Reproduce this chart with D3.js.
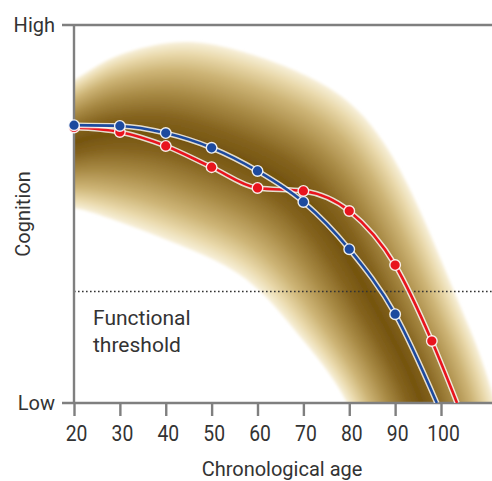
<!DOCTYPE html>
<html>
<head>
<meta charset="utf-8">
<script src="https://cdn.jsdelivr.net/npm/d3@7"></script>
<style>
  body { margin: 0; background: #fff; }
  svg { display: block; font-family: Roboto, "Noto Sans", sans-serif; }
</style>
</head>
<body>
<svg id="chart" width="492" height="481"></svg>
<script>
// Ages where cognition was sampled
const ages = [20, 30, 40, 50, 60, 70, 80, 90];
const blueValues = [73.5, 73.3, 71.4, 67.5, 61.4, 53.2, 40.7, 23.5];
const blueEnd = [99.1, 0];          // where the blue trajectory reaches "Low"

const redAges = [20, 30, 40, 50, 60, 70, 80, 90, 98];
const redValues = [72.9, 71.7, 68.0, 62.4, 56.9, 56.1, 50.8, 36.5, 16.4];
const redEnd = [103.5, 0];          // where the red trajectory reaches "Low"

// Population range of cognition by age (outer edges of the shaded band)
const bandUpper = [[15.2, 81.5], [20, 85.4], [30, 92.1], [44.6, 95.5], [60.5, 91.5],
  [75.2, 83.6], [82.4, 76.7], [87.8, 68.3], [92.2, 59.0], [96.5, 47.9],
  [100.2, 37.3], [104.1, 25.9], [108.1, 14.0], [111.6, 0.8], [112.9, -7.1]];
const bandLower = [[15.2, 52.6], [20, 51.6], [24.1, 50.3], [38.7, 43.9], [53.4, 36.0],
  [60.5, 29.6], [69.3, 17.5], [75.8, 7.4], [79.5, 0], [81.3, -5.8]];

const thresholdValue = 29.5;
const thresholdLabel = ["Functional", "threshold"];

const tickAges = [20, 30, 40, 50, 60, 70, 80, 90, 100];
const yTicks = [0, 100];
const yTickLabels = ["Low", "High"];
const xTitle = "Chronological age";
const yTitle = "Cognition";

const W = 492, H = 481;
const svg = d3.select("#chart");
const x = d3.scaleLinear().domain([20, 100]).range([74, 441]);
const y = d3.scaleLinear().domain([0, 100]).range([403, 25]);
const axisColor = "#7f7f7f";
const textColor = "#333";

const defs = svg.append("defs");
defs.append("clipPath").attr("id", "plot-clip")
  .append("rect")
  .attr("x", x(20)).attr("y", y(100))
  .attr("width", W - x(20)).attr("height", y(0) - y(100));
defs.append("filter").attr("id", "soft")
  .attr("x", "-10%").attr("y", "-10%").attr("width", "120%").attr("height", "120%")
  .append("feGaussianBlur").attr("stdDeviation", 1.6);

// ---- shaded band: nested strips from the outer edges towards the middle ----
const edgeLine = d3.line()
  .x(d => x(d[0])).y(d => y(d[1]))
  .curve(d3.curveCatmullRom.alpha(0.5));

function sampleEdge(pts, n) {
  const p = svg.append("path").attr("d", edgeLine(pts)).attr("fill", "none");
  const node = p.node();
  const len = node.getTotalLength();
  const out = d3.range(n + 1).map(i => {
    const q = node.getPointAtLength(len * i / n);
    return [q.x, q.y];
  });
  p.remove();
  return out;
}

const nSamples = 240;
const up = sampleEdge(bandUpper, nSamples);
const lo = sampleEdge(bandLower, nSamples);
const at = (i, t) => [up[i][0] + (lo[i][0] - up[i][0]) * t, up[i][1] + (lo[i][1] - up[i][1]) * t];

const shade = d3.scaleLinear()
  .domain([0, 0.2, 0.45, 0.7, 0.88, 1])
  .range(["#74540f", "#856420", "#a88a45", "#cdb476", "#e9d9ab", "#f7efd8"])
  .interpolate(d3.interpolateRgb);

const bandG = svg.append("g").attr("clip-path", "url(#plot-clip)")
  .append("g").attr("filter", "url(#soft)");
const levels = 70;
const polyLine = d3.line();
d3.range(levels).forEach(k => {
  const h = 0.5 * (1 - k / levels);
  const t0 = 0.5 - h, t1 = 0.5 + h;
  const pts = d3.range(nSamples + 1).map(i => at(i, t0))
    .concat(d3.range(nSamples, -1, -1).map(i => at(i, t1)));
  bandG.append("path")
    .attr("d", polyLine(pts) + "Z")
    .attr("fill", shade(2 * h));
});

// ---- functional threshold ----
svg.append("line")
  .attr("x1", x(20)).attr("x2", W)
  .attr("y1", y(thresholdValue)).attr("y2", y(thresholdValue))
  .attr("stroke", "#333").attr("stroke-width", 1.5)
  .attr("stroke-dasharray", "1.6,2.4");

svg.append("text")
  .attr("x", 93).attr("y", 325)
  .attr("font-size", 21).attr("fill", textColor)
  .selectAll("tspan").data(thresholdLabel).join("tspan")
  .attr("x", 93).attr("dy", (d, i) => i ? 27 : 0)
  .text(d => d);

// ---- axes ----
const gy = svg.append("g");
gy.selectAll("line.grid").data(yTicks).join("line")
  .attr("class", "grid")
  .attr("x1", 62).attr("x2", W)
  .attr("y1", d => y(d)).attr("y2", d => y(d))
  .attr("stroke", axisColor).attr("stroke-width", 2.4);
gy.selectAll("text").data(yTicks).join("text")
  .attr("x", 55).attr("y", d => y(d)).attr("dy", "0.35em")
  .attr("text-anchor", "end").attr("font-size", 20).attr("fill", textColor)
  .text((d, i) => yTickLabels[i]);
svg.append("line")
  .attr("x1", x(20)).attr("x2", x(20))
  .attr("y1", y(100)).attr("y2", y(0))
  .attr("stroke", axisColor).attr("stroke-width", 2.4);

const gx = svg.append("g")
  .attr("transform", `translate(0,${y(0)})`)
  .call(d3.axisBottom(x).tickValues(tickAges).tickSize(13).tickPadding(9).tickFormat(d3.format("d")));
gx.select(".domain").remove();
gx.selectAll(".tick line").attr("stroke", axisColor).attr("stroke-width", 2.4);
gx.selectAll(".tick text")
  .attr("font-size", 22.5).attr("fill", textColor)
  .attr("font-family", "Roboto, sans-serif")
  .attr("transform", "translate(2,0) scale(0.86,1)");

svg.append("text")
  .attr("x", 282).attr("y", 476)
  .attr("text-anchor", "middle").attr("font-size", 20).attr("fill", textColor)
  .text(xTitle);
svg.append("text")
  .attr("transform", `translate(30,${214}) rotate(-90)`)
  .attr("text-anchor", "middle").attr("font-size", 20).attr("fill", textColor)
  .text(yTitle);

// ---- trajectories ----
const traj = d3.line()
  .x(d => x(d[0])).y(d => y(d[1]))
  .curve(d3.curveMonotoneX);

const blue = ages.map((a, i) => [a, blueValues[i]]);
const red = redAges.map((a, i) => [a, redValues[i]]);
const series = [
  { pts: red, end: redEnd, color: "#e8141e" },
  { pts: blue, end: blueEnd, color: "#1d4a9e" }
];

const lineG = svg.append("g").attr("clip-path", "url(#plot-clip)");
series.forEach(s => {
  const d = traj(s.pts.concat([s.end]));
  lineG.append("path").attr("d", d).attr("fill", "none")
    .attr("stroke", "#fff").attr("stroke-width", 5.5).attr("stroke-opacity", 0.8);
  lineG.append("path").attr("d", d).attr("fill", "none")
    .attr("stroke", s.color).attr("stroke-width", 2.6);
});
series.forEach(s => {
  svg.append("g").selectAll("circle").data(s.pts).join("circle")
    .attr("cx", d => x(d[0])).attr("cy", d => y(d[1]))
    .attr("r", 5.3)
    .attr("fill", s.color)
    .attr("stroke", "#fff").attr("stroke-width", 1.4).attr("stroke-opacity", 0.9);
});
</script>
</body>
</html>
